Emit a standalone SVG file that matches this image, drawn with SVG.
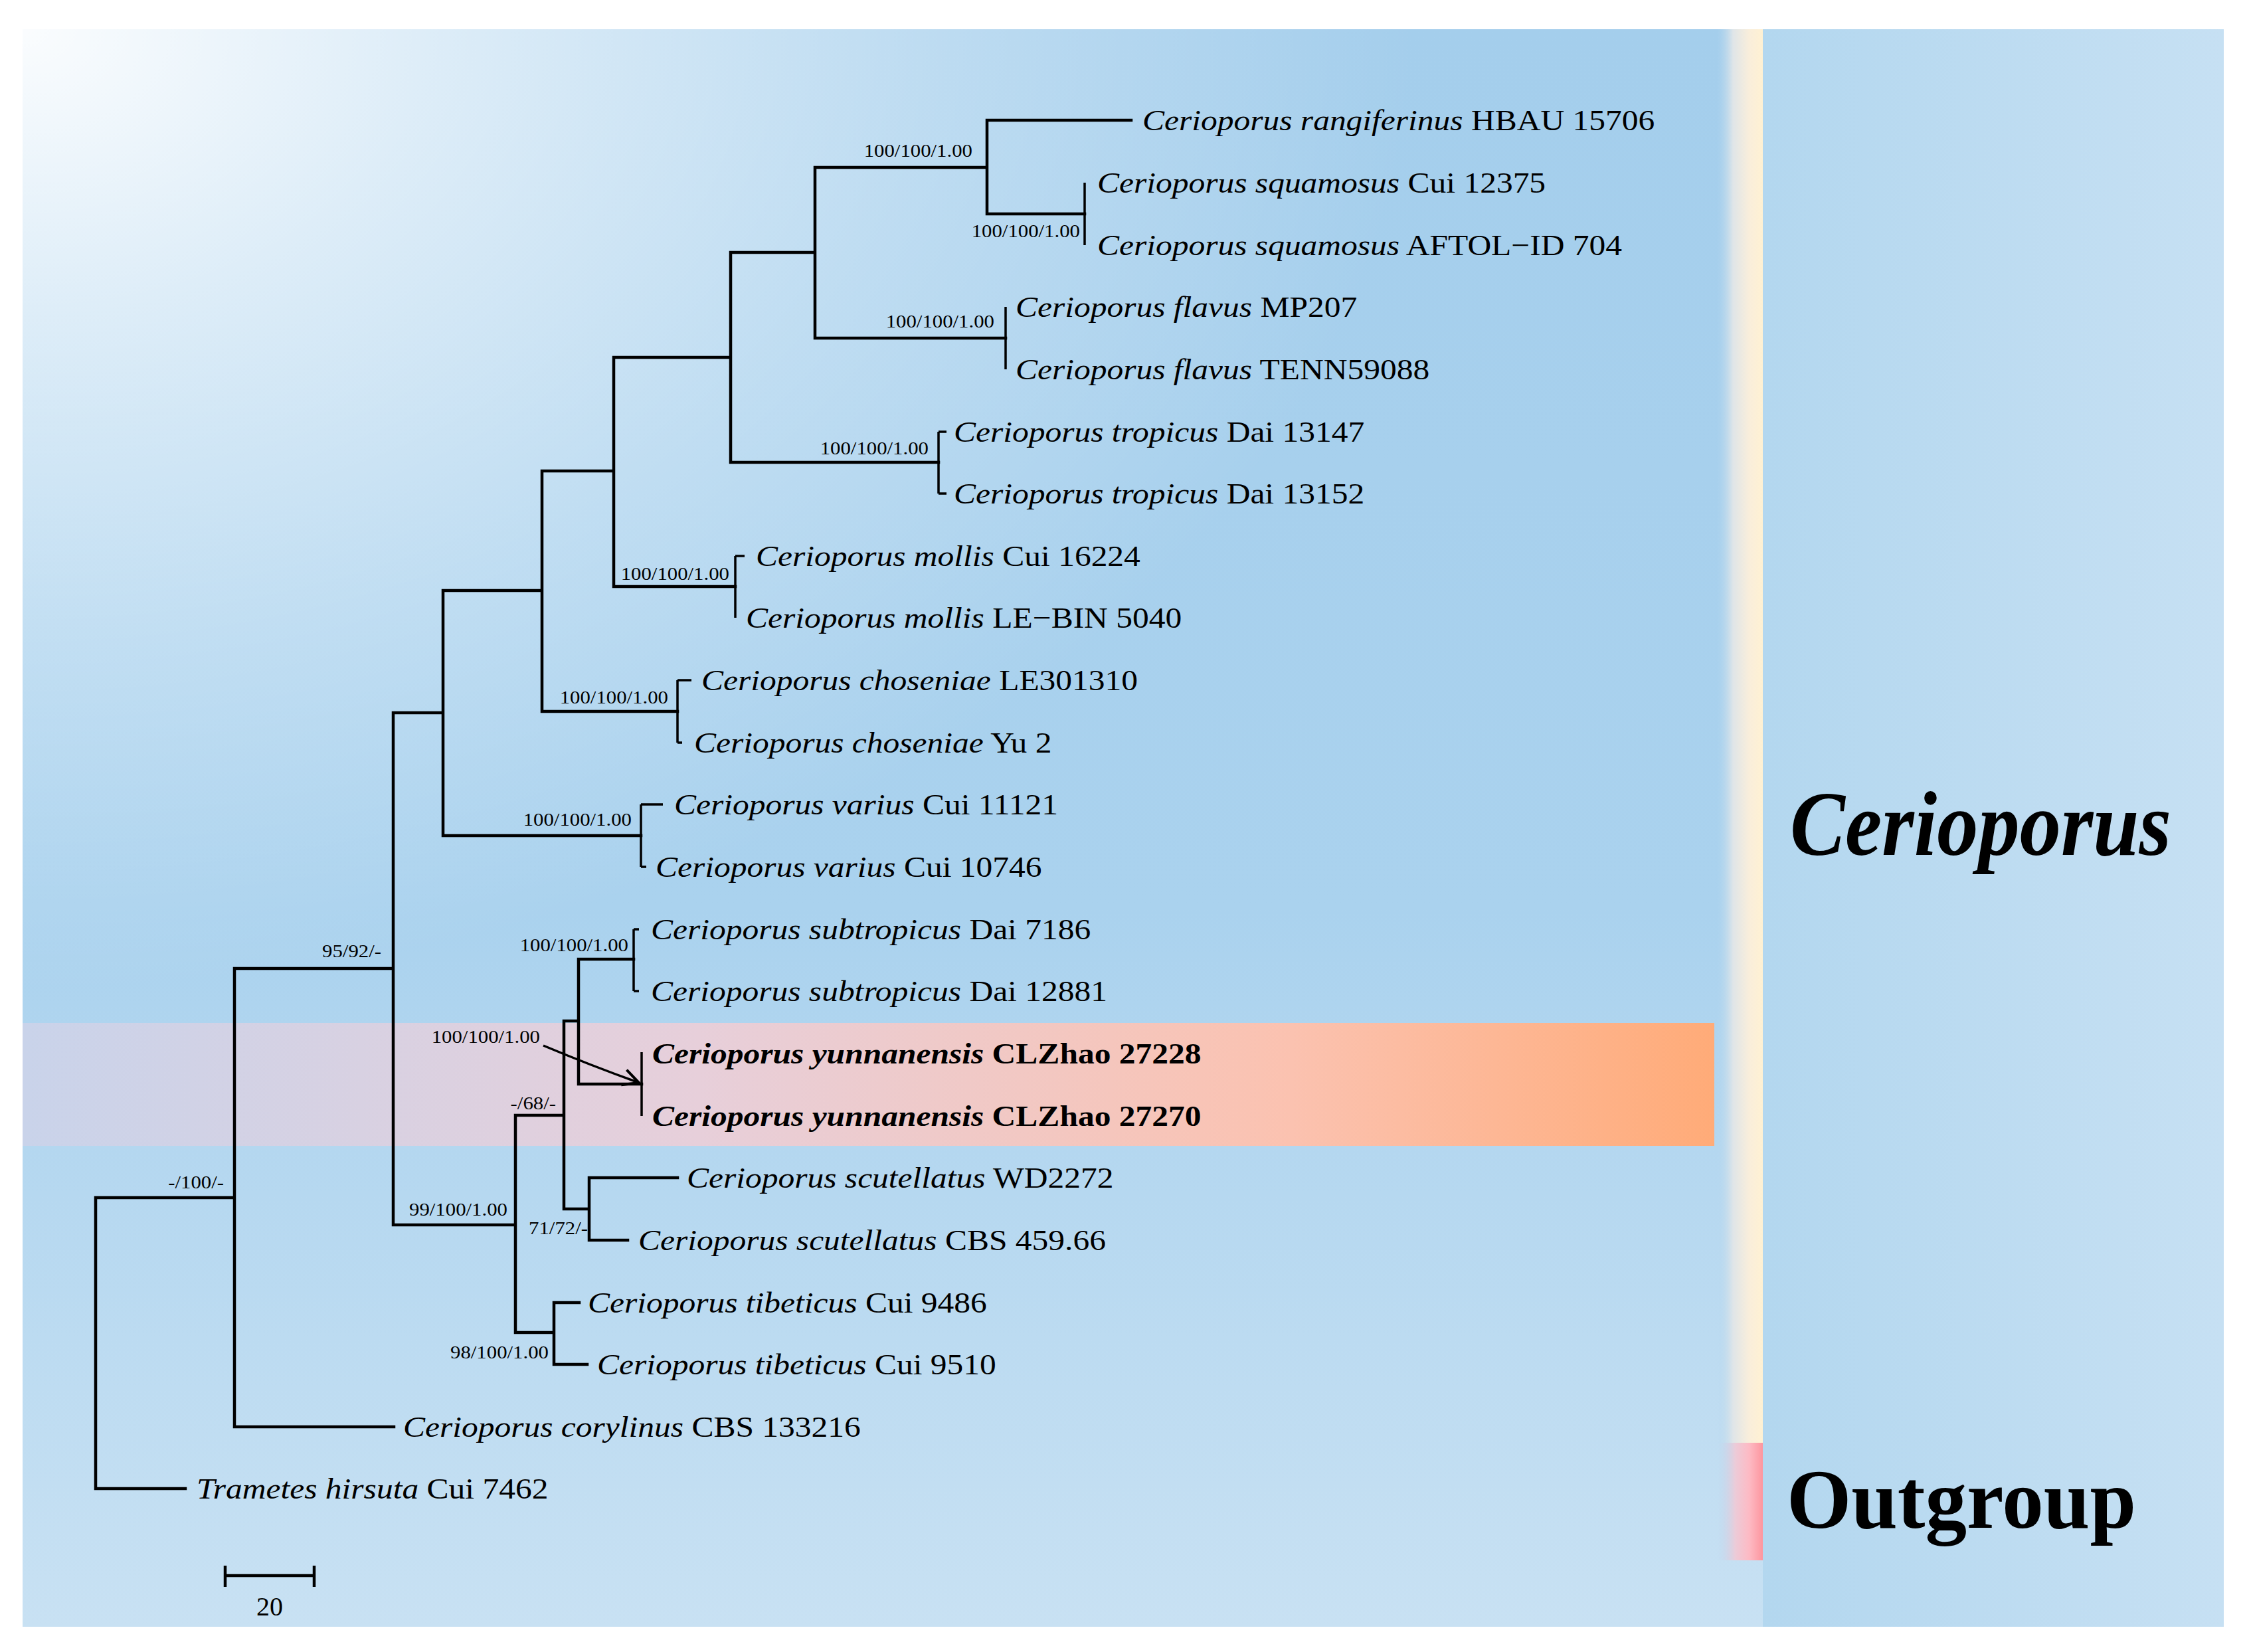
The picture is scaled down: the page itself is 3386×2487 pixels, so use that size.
<svg xmlns="http://www.w3.org/2000/svg" width="3386" height="2487" viewBox="0 0 3386 2487">
<defs>
<linearGradient id="bgv" x1="0" y1="44" x2="0" y2="2449" gradientUnits="userSpaceOnUse">
<stop offset="0" stop-color="#a4ceec"/>
<stop offset="0.55" stop-color="#aad2ee"/>
<stop offset="1" stop-color="#c8e1f3"/>
</linearGradient>
<radialGradient id="glow" gradientUnits="userSpaceOnUse" cx="0" cy="0" r="1" gradientTransform="translate(34 44) scale(2100 1450)">
<stop offset="0" stop-color="#ffffff" stop-opacity="0.95"/>
<stop offset="0.3" stop-color="#ffffff" stop-opacity="0.62"/>
<stop offset="0.65" stop-color="#ffffff" stop-opacity="0.28"/>
<stop offset="1" stop-color="#ffffff" stop-opacity="0"/>
</radialGradient>
<linearGradient id="rightbg" x1="2654" y1="0" x2="3348" y2="0" gradientUnits="userSpaceOnUse">
<stop offset="0" stop-color="#b3d7ef"/>
<stop offset="1" stop-color="#c6e0f3"/>
</linearGradient>
<linearGradient id="cream" x1="2585" y1="0" x2="2654" y2="0" gradientUnits="userSpaceOnUse">
<stop offset="0" stop-color="#b3d6ef" stop-opacity="0"/>
<stop offset="0.35" stop-color="#dfe5e8"/>
<stop offset="0.7" stop-color="#f9eedb"/>
<stop offset="1" stop-color="#fff1d3"/>
</linearGradient>
<linearGradient id="pink" x1="2585" y1="0" x2="2654" y2="0" gradientUnits="userSpaceOnUse">
<stop offset="0" stop-color="#bdd6ee" stop-opacity="0"/>
<stop offset="0.4" stop-color="#eccbd8"/>
<stop offset="0.7" stop-color="#fdbac4"/>
<stop offset="1" stop-color="#fd969f"/>
</linearGradient>
<linearGradient id="band" x1="34" y1="0" x2="2581" y2="0" gradientUnits="userSpaceOnUse">
<stop offset="0" stop-color="#c9d3ea"/>
<stop offset="0.4" stop-color="#e7cfda"/>
<stop offset="0.75" stop-color="#fbc2b0"/>
<stop offset="1" stop-color="#ffab78"/>
</linearGradient>
<marker id="arrow" viewBox="0 0 30 30" refX="28" refY="15" markerWidth="30" markerHeight="30" markerUnits="userSpaceOnUse" orient="auto">
<path d="M4 3 L28 15 L4 27" fill="none" stroke="#000" stroke-width="4"/>
</marker>
<style>
.br{fill:none;stroke:#000;stroke-width:4.5;stroke-linecap:square}
.tb{fill:none;stroke:#000;stroke-width:3.5}
.tip{font-family:"Liberation Serif","Times New Roman",serif;font-size:45px;fill:#000}
.i{font-style:italic}
.b{font-weight:bold}
.sup{font-family:"Liberation Serif","Times New Roman",serif;font-size:28px;fill:#000;text-anchor:end}
.big{font-family:"Liberation Serif","Times New Roman",serif;font-weight:bold;fill:#000}
</style>
</defs>

<g id="background">
<rect x="34" y="44" width="2620" height="2405" fill="url(#bgv)"/>
<rect x="34" y="44" width="2620" height="2405" fill="url(#glow)"/>
<rect x="2654" y="44" width="694" height="2405" fill="url(#rightbg)"/>
<rect x="34" y="1540" width="2547" height="185" fill="url(#band)"/>
</g>

<g id="clade-bars">
<rect id="bar-cerioporus" x="2585" y="44" width="69" height="2128" fill="url(#cream)"/>
<rect id="bar-outgroup" x="2585" y="2172" width="69" height="177" fill="url(#pink)"/>
</g>

<g id="connectors">
<path class="br" d="M144 1803 V2241 M144 1803 H353 M144 2241 H279
M353 1458 V2148 M353 1458 H592 M353 2148 H593
M592 1073 V1844 M592 1073 H667 M592 1844 H776
M667 889 V1258 M667 889 H816 M667 1258 H965
M816 709 V1071 M816 709 H924 M816 1071 H1020
M924 538 V883 M924 538 H1100 M924 883 H1107
M1100 380 V696 M1100 380 H1227 M1100 696 H1413
M1227 252 V509 M1227 252 H1486 M1227 509 H1514
M1486 181 V322 M1486 181 H1703 M1486 322 H1633
M776 1679 V2006 M776 1679 H849 M776 2006 H834
M849 1537 V1820 M849 1537 H871 M849 1820 H887
M871 1444 V1632 M871 1444 H954 M871 1632 H966
M887 1773 V1867 M887 1773 H1020 M887 1867 H945
M834 1961 V2054 M834 1961 H872 M834 2054 H884"/>
<path class="tb" d="M1633 275 V369 M1514 462 V556
M1413 650 V743 M1413 650 H1425 M1413 743 H1425
M1107 837 V930 M1107 837 H1121
M1020 1024 V1118 M1020 1024 H1041 M1020 1118 H1027
M965 1211 V1305 M965 1211 H998 M965 1305 H973
M954 1399 V1492 M954 1399 H962 M954 1492 H962
M966 1584 V1680"/>
<path id="arrow-line" d="M818 1574 Q887 1603 962 1630" fill="none" stroke="#000" stroke-width="3.5" marker-end="url(#arrow)"/>
</g>

<g id="support-labels">
<text class="sup" transform="translate(1464 236) scale(1.1 1)">100/100/1.00</text>
<text class="sup" transform="translate(1626 357) scale(1.1 1)">100/100/1.00</text>
<text class="sup" transform="translate(1497 493) scale(1.1 1)">100/100/1.00</text>
<text class="sup" transform="translate(1398 684) scale(1.1 1)">100/100/1.00</text>
<text class="sup" transform="translate(1098 873) scale(1.1 1)">100/100/1.00</text>
<text class="sup" transform="translate(1006 1059) scale(1.1 1)">100/100/1.00</text>
<text class="sup" transform="translate(951 1243) scale(1.1 1)">100/100/1.00</text>
<text class="sup" transform="translate(946 1432) scale(1.1 1)">100/100/1.00</text>
<text class="sup" transform="translate(813 1570) scale(1.1 1)">100/100/1.00</text>
<text class="sup" transform="translate(837 1670) scale(1.1 1)">-/68/-</text>
<text class="sup" transform="translate(574 1441) scale(1.1 1)">95/92/-</text>
<text class="sup" transform="translate(764 1830) scale(1.1 1)">99/100/1.00</text>
<text class="sup" transform="translate(885 1858) scale(1.1 1)">71/72/-</text>
<text class="sup" transform="translate(826 2045) scale(1.1 1)">98/100/1.00</text>
<text class="sup" transform="translate(337 1789) scale(1.1 1)">-/100/-</text>
</g>

<g id="taxa">
<g id="t01"><text class="tip" transform="translate(1720 196) scale(1.1 1)"><tspan class="i">Cerioporus rangiferinus</tspan> HBAU 15706</text></g>
<g id="t02"><text class="tip" transform="translate(1652 290) scale(1.1 1)"><tspan class="i">Cerioporus squamosus</tspan> Cui 12375</text></g>
<g id="t03"><text class="tip" transform="translate(1652 384) scale(1.1 1)"><tspan class="i">Cerioporus squamosus</tspan> AFTOL−ID 704</text></g>
<g id="t04"><text class="tip" transform="translate(1529 477) scale(1.1 1)"><tspan class="i">Cerioporus flavus</tspan> MP207</text></g>
<g id="t05"><text class="tip" transform="translate(1529 571) scale(1.1 1)"><tspan class="i">Cerioporus flavus</tspan> TENN59088</text></g>
<g id="t06"><text class="tip" transform="translate(1436 665) scale(1.1 1)"><tspan class="i">Cerioporus tropicus</tspan> Dai 13147</text></g>
<g id="t07"><text class="tip" transform="translate(1436 758) scale(1.1 1)"><tspan class="i">Cerioporus tropicus</tspan> Dai 13152</text></g>
<g id="t08"><text class="tip" transform="translate(1138 852) scale(1.1 1)"><tspan class="i">Cerioporus mollis</tspan> Cui 16224</text></g>
<g id="t09"><text class="tip" transform="translate(1123 945) scale(1.1 1)"><tspan class="i">Cerioporus mollis</tspan> LE−BIN 5040</text></g>
<g id="t10"><text class="tip" transform="translate(1056 1039) scale(1.1 1)"><tspan class="i">Cerioporus choseniae</tspan> LE301310</text></g>
<g id="t11"><text class="tip" transform="translate(1045 1133) scale(1.1 1)"><tspan class="i">Cerioporus choseniae</tspan> Yu 2</text></g>
<g id="t12"><text class="tip" transform="translate(1015 1226) scale(1.1 1)"><tspan class="i">Cerioporus varius</tspan> Cui 11121</text></g>
<g id="t13"><text class="tip" transform="translate(987 1320) scale(1.1 1)"><tspan class="i">Cerioporus varius</tspan> Cui 10746</text></g>
<g id="t14"><text class="tip" transform="translate(980 1414) scale(1.1 1)"><tspan class="i">Cerioporus subtropicus</tspan> Dai 7186</text></g>
<g id="t15"><text class="tip" transform="translate(980 1507) scale(1.1 1)"><tspan class="i">Cerioporus subtropicus</tspan> Dai 12881</text></g>
<g id="t16"><text class="tip b" transform="translate(982 1601) scale(1.1 1)"><tspan class="i">Cerioporus yunnanensis</tspan> CLZhao 27228</text></g>
<g id="t17"><text class="tip b" transform="translate(982 1695) scale(1.1 1)"><tspan class="i">Cerioporus yunnanensis</tspan> CLZhao 27270</text></g>
<g id="t18"><text class="tip" transform="translate(1034 1788) scale(1.1 1)"><tspan class="i">Cerioporus scutellatus</tspan> WD2272</text></g>
<g id="t19"><text class="tip" transform="translate(961 1882) scale(1.1 1)"><tspan class="i">Cerioporus scutellatus</tspan> CBS 459.66</text></g>
<g id="t20"><text class="tip" transform="translate(885 1976) scale(1.1 1)"><tspan class="i">Cerioporus tibeticus</tspan> Cui 9486</text></g>
<g id="t21"><text class="tip" transform="translate(899 2069) scale(1.1 1)"><tspan class="i">Cerioporus tibeticus</tspan> Cui 9510</text></g>
<g id="t22"><text class="tip" transform="translate(607 2163) scale(1.1 1)"><tspan class="i">Cerioporus corylinus</tspan> CBS 133216</text></g>
<g id="t23"><text class="tip" transform="translate(296 2256) scale(1.1 1)"><tspan class="i">Trametes hirsuta</tspan> Cui 7462</text></g>
</g>

<g id="clade-labels">
<text id="lbl-cerioporus" class="big" x="2695" y="1287" font-size="138" font-style="italic" textLength="574" lengthAdjust="spacingAndGlyphs">Cerioporus</text>
<text id="lbl-outgroup" class="big" x="2690" y="2300" font-size="128" textLength="526" lengthAdjust="spacingAndGlyphs">Outgroup</text>
</g>

<g id="scale-bar">
<path class="br" d="M339 2372 H473 M339 2357 V2389 M473 2357 V2389" style="stroke-linecap:butt"/>
<text x="406" y="2432" text-anchor="middle" font-family="Liberation Serif, Times New Roman, serif" font-size="40">20</text>
</g>
</svg>
